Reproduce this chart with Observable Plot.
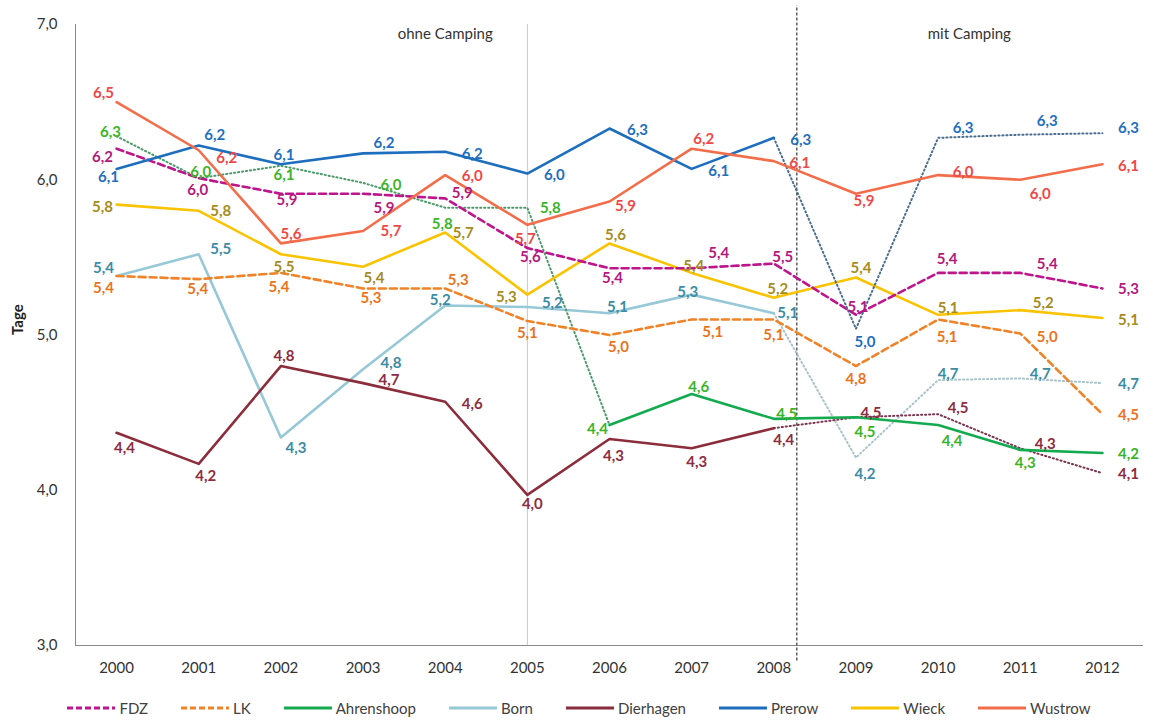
<!DOCTYPE html>
<html><head><meta charset="utf-8">
<script src="https://cdn.jsdelivr.net/npm/d3@7"></script>
<script src="https://cdn.jsdelivr.net/npm/@observablehq/plot@0.6"></script>
<style>
body{margin:0;background:#fff;font-family:Lato,"Open Sans",sans-serif;}
#chart svg{display:block;}
#legend{display:flex;justify-content:center;gap:33px;height:25px;align-items:center;font-size:15px;color:#404040;width:1154px;padding-left:4px;box-sizing:border-box;}
#legend .item{display:flex;align-items:center;gap:4px;}
</style></head>
<body><div id="chart"></div><div id="legend"></div>
<script>
// ---- data ----
const years = [2000,2001,2002,2003,2004,2005,2006,2007,2008,2009,2010,2011,2012];
const seriesNames = ["FDZ","LK","Ahrenshoop","Born","Dierhagen","Prerow","Wieck","Wustrow"];
const FDZ        = [6.20,6.01,5.91,5.91,5.88,5.56,5.43,5.43,5.46,5.13,5.40,5.40,5.30];
const LK         = [5.38,5.36,5.40,5.30,5.30,5.09,5.00,5.10,5.10,4.80,5.10,5.01,4.49];
const Ahrenshoop = [6.28,6.01,6.09,5.98,5.82,5.82,4.42,4.62,4.46,4.47,4.42,4.26,4.24];
const Born       = [5.38,5.52,4.34,4.78,5.19,5.18,5.14,5.26,5.14,4.21,4.71,4.72,4.69];
const Dierhagen  = [4.37,4.17,4.80,4.69,4.57,3.97,4.33,4.27,4.40,4.47,4.49,4.27,4.11];
const Prerow     = [6.07,6.22,6.10,6.17,6.18,6.04,6.33,6.07,6.27,5.04,6.27,6.29,6.30];
const Wieck      = [5.84,5.80,5.52,5.44,5.66,5.26,5.59,5.40,5.24,5.37,5.13,5.16,5.11];
const Wustrow    = [6.50,6.19,5.59,5.67,6.03,5.71,5.86,6.20,6.12,5.91,6.03,6.00,6.10];
const yTicks = [3,4,5,6,7];
const periodLabels = ["ohne Camping","mit Camping"];
const periodLabelX = [2004.0, 2010.38];
const campingBreak = 2008.28;
const axisTitle = "Tage";

// ---- styles / layout ----
const values = {FDZ, LK, Ahrenshoop, Born, Dierhagen, Prerow, Wieck, Wustrow};
const style = {
  FDZ:        {stroke:"#be148c", text:"#b4197d", dash:"7,4"},
  LK:         {stroke:"#f08228", text:"#eb731e", dash:"7,4"},
  Ahrenshoop: {stroke:"#14aa50", text:"#3cb428", dotted:[0,6], dotStroke:"#4a9a6a"},
  Born:       {stroke:"#96c8d7", text:"#3c8ca5", dotted:[8,12], dotStroke:"#a9c3cc"},
  Dierhagen:  {stroke:"#8c2d3c", text:"#8c2d41", dotted:[8,12], dotStroke:"#7a3650"},
  Prerow:     {stroke:"#1e6ebe", text:"#1f6fc0", dotted:[8,12], dotStroke:"#4a6e90"},
  Wieck:      {stroke:"#fac300", text:"#a58c1e"},
  Wustrow:    {stroke:"#f36d4a", text:"#ee4848"}
};
// label nudges in px [dx,dy] per year
const nudge = {
  Prerow:     [[-8,8],[16,-10],[3,-9],[21,-10],[27,2],[27,2],[28,2],[27,2],[27,2],[9,13],[25,-10],[27,-14],[26,-5]],
  Wustrow:    [[-13,-9],[28,8],[10,-9],[28,0],[27,1],[-2,14],[16,5],[12,-10],[26,2],[8,7],[25,-3],[20,14],[26,2]],
  FDZ:        [[-14,8],[-1,12],[6,6],[21,14],[17,-5],[3,9],[3,10],[27,-15],[9,-6],[2,-8],[9,-14],[27,-9],[26,1]],
  Ahrenshoop: [[-6,-4],[2,-6],[3,9],[28,2],[-3,16],[23,0],[-12,4],[7,-7],[13,-5],[9,15],[14,16],[5,13],[26,1]],
  Wieck:      [[-14,3],[22,0],[3,13],[11,11],[18,1],[-21,3],[6,-8],[2,-7],[4,-9],[5,-9],[10,-7],[23,-7],[26,2]],
  LK:         [[-13,12],[-1,10],[-2,14],[8,10],[13,-8],[0,12],[9,12],[21,13],[0,16],[0,13],[9,18],[27,4],[26,1]],
  Born:       [[-13,-8],[22,-5],[15,11],[28,-6],[-5,-5],[25,-4],[8,-6],[-4,-2],[14,0],[9,17],[10,-6],[20,-4],[26,1]],
  Dierhagen:  [[8,15],[7,12],[3,-10],[26,-3],[27,2],[5,9],[4,17],[5,14],[10,12],[15,-4],[20,-6],[25,-4],[26,1]]
};
const drawOrder = ["Born","Dierhagen","Ahrenshoop","LK","Wieck","FDZ","Prerow","Wustrow"];
const fmt = v => (Math.round(v*10)/10).toFixed(1).replace(".", ",");

const marks = [];
marks.push(Plot.ruleX([2005], {stroke:"#c8c8c8", strokeWidth:1}));
marks.push(Plot.ruleX([1999.5], {stroke:"#8a8a8a", strokeWidth:1}));
marks.push(Plot.ruleY([3], {stroke:"#8a8a8a", strokeWidth:1}));
marks.push(Plot.ruleX([campingBreak], {y1:2.9, y2:7.12, stroke:"#444", strokeWidth:1.3, strokeDasharray:"3,2"}));

for (const name of drawOrder) {
  const s = style[name];
  const data = years.map((year, i) => ({year, v: values[name][i]}));
  if (s.dotted) {
    const [a, b] = s.dotted;
    const solid = a === 0 ? data.slice(b) : data.slice(0, a + 1);
    marks.push(Plot.line(data.slice(a, b + 1), {x:"year", y:"v", stroke:s.dotStroke, strokeWidth:2, strokeDasharray:"1.2,2.8"}));
    marks.push(Plot.line(solid, {x:"year", y:"v", stroke:s.stroke, strokeWidth:2.6}));
  } else {
    marks.push(Plot.line(data, {x:"year", y:"v", stroke:s.stroke, strokeWidth:2.6, strokeDasharray:s.dash || null}));
  }
}
for (const name of drawOrder) {
  const s = style[name];
  years.forEach((year, i) => {
    const [dx, dy] = nudge[name][i];
    marks.push(Plot.text([{year, v: values[name][i]}], {
      x:"year", y:"v", text: d => fmt(d.v), dx, dy,
      fill:s.text, fontWeight:"bold", fontSize:15
    }));
  });
}
marks.push(Plot.text(periodLabels.map((t, i) => ({t, x: periodLabelX[i]})), {
  x:"x", y:() => 6.94, text:"t", fill:"#333", fontSize:15
}));
marks.push(Plot.text([axisTitle], {frameAnchor:"left", rotate:-90, dx:-57, fontWeight:"bold", fontSize:15, fill:"#222"}));
marks.push(Plot.axisY({ticks:yTicks, tickFormat: d => d.toFixed(1).replace(".", ","), tickSize:0, tickPadding:18, label:null, fontSize:15}));
marks.push(Plot.axisX({ticks:years, tickFormat: d => String(d), tickSize:0, tickPadding:17, label:null, fontSize:15}));

const chart = Plot.plot({
  width:1154, height:695,
  marginLeft:75, marginRight:11, marginTop:24, marginBottom:50,
  x:{domain:[1999.5, 2012.5]},
  y:{domain:[3, 7]},
  style:{fontFamily:"Lato, 'Open Sans', sans-serif", fontSize:"15px", color:"#333", background:"#fff", overflow:"visible"},
  marks
});
document.getElementById("chart").appendChild(chart);

// legend
const legend = document.getElementById("legend");
for (const name of seriesNames) {
  const s = style[name];
  const item = document.createElement("span");
  item.className = "item";
  item.innerHTML = `<svg width="48" height="10"><line x1="0" y1="5" x2="48" y2="5" stroke="${s.stroke}" stroke-width="3" ${s.dash ? `stroke-dasharray="6,3"` : ""}/></svg><span>${name}</span>`;
  legend.appendChild(item);
}
</script>
</body></html>
